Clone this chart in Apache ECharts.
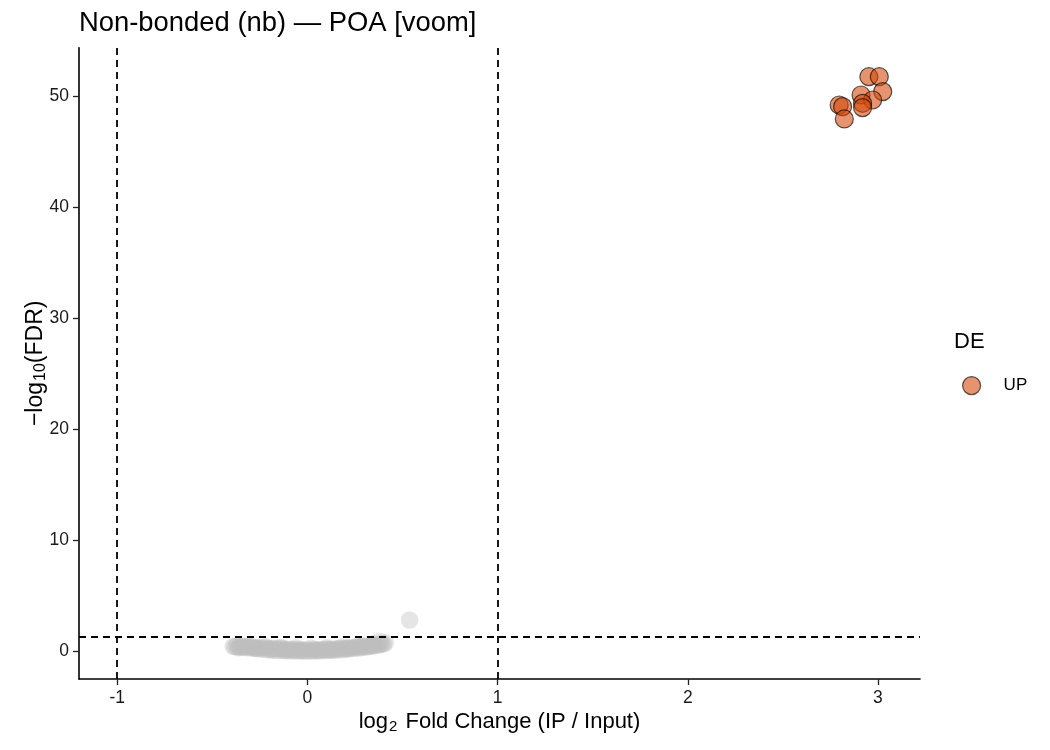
<!DOCTYPE html>
<html>
<head>
<meta charset="utf-8">
<script src="https://cdn.jsdelivr.net/npm/echarts@6/dist/echarts.min.js"></script>
<style>
html,body{margin:0;padding:0;background:#fff;}
#chart{width:1050px;height:750px;}
</style>
</head>
<body>
<div id="chart"></div>
<script>
// ---- data ----
const upLogFC = [2.952, 3.007, 3.025, 2.911, 2.972, 2.919, 2.796, 2.814, 2.823, 2.919];
const upFDR   = [51.74, 51.74, 50.39, 50.09, 49.64, 49.34, 49.19, 49.04, 47.93, 48.95];

const nsLogFC = [
  -0.39,-0.38,-0.37,-0.36,-0.35,-0.34,-0.33,-0.32,-0.31,-0.30,-0.29,-0.28,-0.27,-0.26,-0.25,
  -0.24,-0.23,-0.22,-0.21,-0.20,-0.19,-0.18,-0.17,-0.16,-0.15,-0.14,-0.13,-0.12,-0.11,-0.10,
  -0.09,-0.08,-0.07,-0.06,-0.05,-0.04,-0.03,-0.02,-0.01,0.00,0.01,0.02,0.03,0.04,0.05,
  0.06,0.07,0.08,0.09,0.10,0.11,0.12,0.13,0.14,0.15,0.16,0.17,0.18,0.19,0.20,
  0.21,0.22,0.23,0.24,0.25,0.26,0.27,0.28,0.29,0.30,0.31,0.32,0.33,0.34,0.35,
  0.36,0.37,0.38,0.39,0.40,0.41,0.38,
  -0.36,-0.30,-0.22,-0.14,-0.06,0.02,0.10,0.18,0.26,0.34,
  -0.33,-0.27,-0.19,-0.11,-0.03,0.05,0.13,0.21,0.29,
  0.537
];
const nsFDR = [
  0.42,0.38,0.46,0.36,0.44,0.34,0.40,0.30,0.42,0.28,0.38,0.26,0.35,0.22,0.33,
  0.18,0.30,0.14,0.28,0.10,0.26,0.08,0.24,0.06,0.22,0.04,0.20,0.03,0.18,0.02,
  0.16,0.01,0.14,0.01,0.12,0.00,0.12,0.00,0.10,0.00,0.10,0.00,0.11,0.01,0.12,
  0.02,0.13,0.03,0.15,0.04,0.16,0.06,0.18,0.08,0.20,0.10,0.22,0.12,0.25,0.15,
  0.28,0.18,0.31,0.22,0.34,0.26,0.37,0.30,0.40,0.34,0.44,0.38,0.48,0.43,0.52,
  0.50,0.58,0.56,0.66,0.62,0.74,0.86,
  0.30,0.36,0.38,0.34,0.30,0.28,0.30,0.36,0.42,0.60,
  0.40,0.20,0.16,0.10,0.06,0.06,0.10,0.24,0.46,
  2.79
];

const xTicks = [-1, 0, 1, 2, 3];
const yTicks = [0, 10, 20, 30, 40, 50];
const fcThresholds = [-1, 1];
const fdrThreshold = [1.301];

// ---- build ----
const upData = upLogFC.map((x, i) => [x, upFDR[i]]);
const nsData = nsLogFC.map((x, i) => [x, nsFDR[i]]);

const FONT = 'Liberation Sans, Arial, Helvetica, sans-serif';
const UP_FILL = 'rgba(211,70,5,0.72)';
const UP_BORDER = 'rgba(0,0,0,0.8)';
const chart = echarts.init(document.getElementById('chart'), null, {renderer: 'canvas'});

chart.setOption({
  backgroundColor: '#ffffff',
  animation: false,
  title: {
    text: 'Non-bonded (nb) \u2014 POA [voom]',
    left: 74,
    top: 5,
    textStyle: {fontFamily: FONT, fontSize: 27.4, fontWeight: 'normal', color: '#000'}
  },
  legend: {
    data: ['UP'],
    orient: 'vertical',
    left: 957,
    top: 371,
    itemWidth: 18,
    itemHeight: 18,
    textStyle: {fontFamily: FONT, fontSize: 17, color: '#000', padding: [0, 0, 0, 18]},
    itemStyle: {color: UP_FILL, borderColor: UP_BORDER, borderWidth: 1.2}
  },
  graphic: [{
    type: 'text',
    left: 954,
    top: 331,
    style: {text: 'DE', fontFamily: FONT, fontSize: 22, fill: '#000'}
  }],
  grid: {left: 79, right: 130, top: 47.7, bottom: 71, containLabel: false},
  xAxis: {
    type: 'value',
    min: -1.201,
    max: 3.221,
    splitLine: {show: false},
    axisLine: {show: true, onZero: false, lineStyle: {color: '#000', width: 1.6}},
    axisTick: {show: true, length: 6, customValues: xTicks, lineStyle: {color: '#222', width: 1.3}},
    axisLabel: {customValues: xTicks, margin: 10, fontFamily: FONT, fontSize: 17.5, color: '#1a1a1a'},
    name: '{a|log}{b|2}{a| Fold Change (IP / Input)}',
    nameLocation: 'middle',
    nameGap: 30,
    nameMoveOverlap: false,
    nameTextStyle: {
      fontFamily: FONT, fontSize: 22, color: '#000',
      rich: {
        a: {fontFamily: FONT, fontSize: 22, color: '#000'},
        b: {fontFamily: FONT, fontSize: 15, color: '#000', padding: [10, 2, 0, 1]}
      }
    }
  },
  yAxis: {
    type: 'value',
    min: -2.52,
    max: 54.35,
    splitLine: {show: false},
    axisLine: {show: true, onZero: false, lineStyle: {color: '#000', width: 1.6}},
    axisTick: {show: true, length: 6, customValues: yTicks, lineStyle: {color: '#222', width: 1.3}},
    axisLabel: {customValues: yTicks, margin: 10, fontFamily: FONT, fontSize: 17.5, color: '#1a1a1a'},
    name: '{a|\u2212log}{b|10}{a|(FDR)}',
    nameLocation: 'middle',
    nameGap: 30,
    nameMoveOverlap: false,
    nameTextStyle: {
      fontFamily: FONT, fontSize: 23, color: '#000',
      rich: {
        a: {fontFamily: FONT, fontSize: 23, color: '#000'},
        b: {fontFamily: FONT, fontSize: 16, color: '#000', padding: [10, 0, 0, 1]}
      }
    }
  },
  series: [
    {
      name: 'NS',
      type: 'scatter',
      data: nsData,
      symbol: 'circle',
      symbolSize: 17.5,
      itemStyle: {color: 'rgba(190,190,190,0.5)', borderWidth: 0},
      z: 2,
      silent: true
    },
    {
      name: 'UP',
      type: 'scatter',
      data: upData,
      symbol: 'circle',
      symbolSize: 18,
      itemStyle: {color: UP_FILL, borderColor: UP_BORDER, borderWidth: 1.2},
      z: 3,
      silent: true
    },
    {
      name: 'thresholds',
      type: 'scatter',
      data: [],
      z: 4,
      markLine: {
        silent: true,
        symbol: 'none',
        label: {show: false},
        lineStyle: {color: '#000', type: [7, 5], width: 1.8},
        data: fcThresholds.map(v => ({xAxis: v})).concat(fdrThreshold.map(v => ({yAxis: v})))
      }
    }
  ]
});
</script>
</body>
</html>
